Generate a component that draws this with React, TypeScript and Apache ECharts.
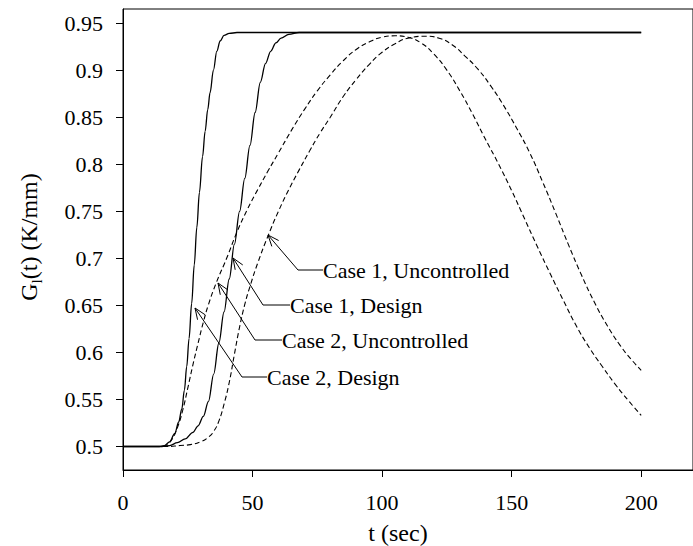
import React, { useEffect, useRef } from "react";
import * as echarts from "echarts";

// ---------- data ----------
const xTicks = [0, 50, 100, 150, 200];
const yTicks = [0.5, 0.55, 0.6, 0.65, 0.7, 0.75, 0.8, 0.85, 0.9, 0.95];

const case2DesignT = [0, 14, 16, 18, 20, 21.5, 22.7, 23.7, 24.6, 25.5, 26.5, 27.5, 28.5, 29.5, 30.7, 31.7, 32.7, 33.6, 34.9, 36.2, 37.5, 39, 41, 44, 60, 100, 150, 200];
const case2DesignG = [0.5, 0.5, 0.501, 0.505, 0.514, 0.526, 0.54, 0.56, 0.585, 0.615, 0.652, 0.693, 0.733, 0.77, 0.808, 0.835, 0.858, 0.876, 0.9, 0.92, 0.931, 0.937, 0.939, 0.94, 0.94, 0.94, 0.94, 0.94];

const case1DesignT = [0, 15, 18, 21, 24, 27, 29, 31, 33, 35, 37, 39, 41, 43, 45, 47, 49, 51, 53, 55, 57, 59, 61, 64, 68, 80, 120, 160, 200];
const case1DesignG = [0.5, 0.5, 0.501, 0.504, 0.508, 0.515, 0.522, 0.532, 0.548, 0.577, 0.61, 0.643, 0.678, 0.715, 0.75, 0.785, 0.82, 0.855, 0.887, 0.907, 0.92, 0.929, 0.934, 0.938, 0.94, 0.94, 0.94, 0.94, 0.94];

const case2UncT = [0, 15, 17, 19, 21, 23, 25, 27, 29, 31, 33, 36, 40, 44, 48, 52, 56, 60, 65, 70, 75, 80, 85, 90, 95, 100, 105, 110, 115, 120, 125, 130, 135, 140, 145, 150, 155, 160, 165, 170, 175, 180, 185, 190, 195, 200];
const case2UncG = [0.5, 0.5, 0.502, 0.508, 0.52, 0.538, 0.562, 0.587, 0.61, 0.632, 0.651, 0.674, 0.7, 0.728, 0.752, 0.773, 0.793, 0.812, 0.836, 0.858, 0.878, 0.895, 0.91, 0.922, 0.93, 0.935, 0.9365, 0.935, 0.929, 0.917, 0.9, 0.878, 0.853, 0.826, 0.8, 0.772, 0.742, 0.712, 0.683, 0.655, 0.628, 0.605, 0.585, 0.566, 0.549, 0.533];

const case1UncT = [0, 17, 22, 26, 30, 33, 35, 37, 39, 41, 43, 45, 47, 49, 52, 56, 60, 64, 68, 72, 76, 80, 85, 90, 95, 100, 105, 110, 117, 122, 127, 132, 137, 142, 147, 152, 157, 162, 167, 172, 177, 182, 187, 192, 196, 200];
const case1UncG = [0.5, 0.5, 0.501, 0.502, 0.505, 0.51, 0.516, 0.527, 0.545, 0.568, 0.598, 0.627, 0.651, 0.67, 0.695, 0.724, 0.75, 0.773, 0.794, 0.814, 0.833, 0.85, 0.872, 0.89, 0.906, 0.919, 0.928, 0.934, 0.936, 0.934, 0.927, 0.915, 0.901, 0.883, 0.862, 0.838, 0.812, 0.781, 0.748, 0.714, 0.682, 0.653, 0.628, 0.607, 0.593, 0.581];

const annotationLabels = ["Case 1, Uncontrolled", "Case 1, Design", "Case 2, Uncontrolled", "Case 2, Design"];

// ---------- layout ----------
const FONT = "'Liberation Serif', 'Times New Roman', serif";
const FS = 22;
const TITLE_FS = 24;
// [tipX, tipY, elbowX, elbowY, textX]
const annotationLayout = [
  [268, 235, 298, 270, 323],
  [233, 258, 263, 305, 290],
  [218, 283, 255, 340, 282],
  [195, 308, 242, 377, 267],
];

const zip = (t: number[], g: number[]) => t.map((v, i) => [v, g[i]]);

function buildAnnotations() {
  const els: any[] = [];
  annotationLayout.forEach(([tx, ty, ex, ey, textX], i) => {
    const stroke = { stroke: "#000", lineWidth: 1, fill: null };
    els.push({ type: "line", shape: { x1: tx, y1: ty, x2: ex, y2: ey }, style: stroke, silent: true });
    els.push({ type: "line", shape: { x1: ex, y1: ey, x2: textX, y2: ey }, style: stroke, silent: true });
    const dx = ex - tx, dy = ey - ty;
    const len = Math.hypot(dx, dy);
    const ux = dx / len, uy = dy / len;
    const a = (22 * Math.PI) / 180, L = 12;
    const r = (ang: number) => [tx + L * (ux * Math.cos(ang) - uy * Math.sin(ang)), ty + L * (ux * Math.sin(ang) + uy * Math.cos(ang))];
    els.push({ type: "polyline", shape: { points: [r(a), [tx, ty], r(-a)] }, style: stroke, silent: true });
    els.push({
      type: "text",
      x: textX,
      y: ey,
      style: { text: annotationLabels[i], fill: "#000", fontFamily: FONT, fontSize: FS, align: "left", verticalAlign: "middle" },
      silent: true,
    });
  });
  // y axis title
  els.push({
    type: "text",
    x: 29,
    y: 237,
    rotation: Math.PI / 2,
    style: {
      text: "{a|G}{b|l}{a|(t) (K/mm)}",
      align: "center",
      verticalAlign: "middle",
      rich: {
        a: { fontFamily: FONT, fontSize: TITLE_FS, fill: "#000", lineHeight: 30 },
        b: { fontFamily: FONT, fontSize: 15, fill: "#000", lineHeight: 15, verticalAlign: "bottom", padding: [7, 0, 0, 0] },
      },
    },
    silent: true,
  });
  // x axis title
  els.push({
    type: "text",
    x: 398,
    y: 533,
    style: { text: "t (sec)", fill: "#000", fontFamily: FONT, fontSize: TITLE_FS, align: "center", verticalAlign: "middle" },
    silent: true,
  });
  return els;
}

export default function App() {
  const ref = useRef<HTMLDivElement>(null);
  useEffect(() => {
    if (!ref.current) return;
    const chart = echarts.init(ref.current, null, { renderer: "svg" });
    const solid = { color: "#000", width: 1.3, type: "solid" };
    const dashed = { color: "#000", width: 1.1, type: [5, 3] };
    const solidCommon = { type: "line", showSymbol: false, smooth: 0.35, smoothMonotone: "x", silent: true };
    const dashedCommon = { type: "line", showSymbol: false, smooth: 0.5, silent: true };
    chart.setOption({
      animation: false,
      backgroundColor: "#fff",
      grid: { left: 123, top: 9, width: 571, height: 461, show: true, borderColor: "#000", borderWidth: 1, backgroundColor: "transparent" },
      xAxis: {
        type: "value",
        min: 0,
        max: 220,
        axisLine: { show: true, lineStyle: { color: "#000", width: 1 } },
        axisTick: { show: true, length: 7, inside: false, customValues: xTicks, lineStyle: { color: "#000" } },
        axisLabel: { customValues: xTicks, color: "#000", fontFamily: FONT, fontSize: FS, margin: 21 },
        splitLine: { show: false },
      },
      yAxis: {
        type: "value",
        min: 0.475,
        max: 0.965,
        axisLine: { show: true, lineStyle: { color: "#000", width: 1 } },
        axisTick: { show: true, length: 7, inside: false, customValues: yTicks, lineStyle: { color: "#000" } },
        axisLabel: {
          customValues: yTicks,
          color: "#000",
          fontFamily: FONT,
          fontSize: FS,
          margin: 20,
          formatter: (v: number) => String(+v.toFixed(2)),
        },
        splitLine: { show: false },
      },
      series: [
        { ...solidCommon, name: "Case 2, Design", data: zip(case2DesignT, case2DesignG), lineStyle: solid },
        { ...solidCommon, name: "Case 1, Design", data: zip(case1DesignT, case1DesignG), lineStyle: solid },
        { ...dashedCommon, name: "Case 2, Uncontrolled", data: zip(case2UncT, case2UncG), lineStyle: dashed },
        { ...dashedCommon, name: "Case 1, Uncontrolled", data: zip(case1UncT, case1UncG), lineStyle: dashed },
      ],
      graphic: buildAnnotations(),
    });
    return () => chart.dispose();
  }, []);
  return <div ref={ref} style={{ position: "fixed", left: 0, top: 0, width: 693, height: 546, background: "#fff" }} />;
}
